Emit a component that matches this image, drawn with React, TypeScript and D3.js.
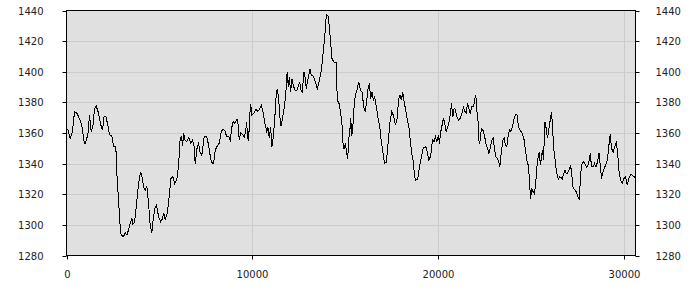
import React from "react";
import * as d3 from "d3";

const xValues: number[] = [
  0, 70, 194, 323, 431, 555, 733, 862, 916, 1002, 1148, 1240, 1326, 1417, 1509, 1595, 1725, 1849, 1940, 2026,
  2118, 2226, 2317, 2441, 2533, 2657, 2711, 2802, 2889, 2943, 3072, 3158, 3250, 3341, 3428, 3519, 3573, 3665, 3735, 3843,
  3913, 3988, 4058, 4150, 4236, 4328, 4419, 4506, 4597, 4689, 4775, 4850, 4958, 5066, 5174, 5228, 5314, 5422, 5530, 5621,
  5729, 5821, 5944, 6036, 6122, 6198, 6252, 6306, 6376, 6467, 6591, 6699, 6791, 6877, 6931, 7039, 7114, 7184, 7292, 7416,
  7545, 7653, 7761, 7847, 7922, 8009, 8116, 8224, 8332, 8440, 8531, 8623, 8731, 8817, 8909, 8979, 9070, 9141, 9216, 9302,
  9394, 9485, 9572, 9647, 9701, 9755, 9809, 9863, 9917, 9987, 10094, 10202, 10310, 10418, 10488, 10596, 10687, 10779, 10849, 10919,
  10994, 11064, 11135, 11210, 11296, 11350, 11426, 11479, 11549, 11641, 11727, 11803, 11857, 11889, 11943, 11997, 12072, 12142, 12212, 12320,
  12428, 12557, 12627, 12697, 12789, 12859, 12913, 13005, 13112, 13183, 13290, 13398, 13506, 13614, 13722, 13797, 13867, 13937, 13991, 14083,
  14153, 14228, 14298, 14390, 14514, 14584, 14675, 14767, 14837, 14875, 14945, 15015, 15090, 15144, 15198, 15268, 15307, 15360, 15430, 15484,
  15554, 15662, 15737, 15823, 15915, 16006, 16093, 16168, 16238, 16308, 16384, 16454, 16524, 16599, 16686, 16777, 16869, 16955, 17047, 17128,
  17225, 17316, 17408, 17516, 17602, 17710, 17801, 17893, 17963, 18033, 18108, 18178, 18270, 18356, 18448, 18518, 18593, 18663, 18744, 18798,
  18906, 19003, 19132, 19219, 19348, 19434, 19510, 19618, 19704, 19795, 19866, 19941, 20027, 20081, 20157, 20243, 20297, 20372, 20442, 20512,
  20588, 20674, 20728, 20803, 20873, 20943, 21019, 21105, 21197, 21288, 21375, 21466, 21520, 21590, 21666, 21736, 21827, 21914, 21989, 22043,
  22097, 22167, 22221, 22275, 22345, 22420, 22506, 22582, 22668, 22743, 22813, 22905, 22975, 23045, 23120, 23207, 23282, 23336, 23406, 23498,
  23568, 23638, 23713, 23784, 23854, 23929, 24015, 24107, 24198, 24268, 24338, 24430, 24538, 24645, 24716, 24791, 24877, 24931, 24985, 25061,
  25131, 25185, 25254, 25330, 25400, 25454, 25524, 25578, 25632, 25686, 25761, 25831, 25901, 25977, 26063, 26117, 26171, 26225, 26300, 26370,
  26478, 26548, 26624, 26694, 26764, 26839, 26909, 26979, 27055, 27141, 27195, 27270, 27357, 27448, 27540, 27610, 27680, 27734, 27826, 27917,
  28004, 28079, 28149, 28203, 28273, 28365, 28435, 28510, 28597, 28672, 28742, 28812, 28888, 28974, 29065, 29135, 29210, 29280, 29350, 29442,
  29512, 29604, 29674, 29749, 29836, 29927, 30019, 30105, 30197, 30288, 30374, 30466, 30558, 30640,
];

const yValues: number[] = [
  1362, 1362.4, 1356.5, 1361, 1374, 1373, 1368.5, 1363, 1355.5, 1353, 1358.7, 1371.5, 1361, 1364, 1375.6, 1377.7, 1373, 1365.2, 1362, 1371,
  1371, 1365, 1359, 1358, 1351.5, 1351, 1333.5, 1316, 1299, 1293.4, 1292.2, 1295, 1293.4, 1296.6, 1301, 1304.2, 1300.3, 1301.4, 1309.6, 1322.6,
  1329.2, 1334.6, 1331.8, 1324.8, 1322.6, 1325.2, 1314, 1299.8, 1295, 1305.8, 1311.4, 1313, 1305.3, 1302, 1304.2, 1307.9, 1303.6, 1307.5, 1318.3, 1330.3,
  1331.4, 1327, 1329.6, 1339, 1356.5, 1357.6, 1351.5, 1360.2, 1355.4, 1354.3, 1357, 1353.3, 1355.4, 1351, 1339.7, 1351, 1353.3, 1347.8, 1345.5, 1358,
  1358, 1352, 1343.3, 1340.4, 1340.4, 1348.8, 1351.4, 1353.3, 1361, 1362.4, 1361.6, 1357.6, 1358, 1355.4, 1364.1, 1367.4, 1366.2, 1368.4, 1369, 1355.8,
  1360.2, 1359, 1357.6, 1361, 1367.4, 1356.5, 1355.4, 1371, 1378.8, 1371.6, 1373.1, 1375.3, 1374.2, 1376, 1378.2, 1373.1, 1366.2, 1361, 1363.6, 1357.1,
  1363.6, 1351, 1357.6, 1368.4, 1385.8, 1389, 1382.5, 1371.6, 1364.4, 1370.5, 1377, 1384, 1396.6, 1399.9, 1390.1, 1396.6, 1386.8, 1395.5, 1391.1, 1387.4,
  1388.3, 1393.4, 1388, 1386.8, 1399.9, 1395.5, 1389, 1395.5, 1402, 1397.7, 1397, 1393.4, 1389, 1394.4, 1401, 1409.7, 1418.4, 1427.1, 1437.4, 1436.3,
  1429.3, 1418.4, 1408.6, 1406.4, 1406, 1381.4, 1379.3, 1372.7, 1365.1, 1354.2, 1349.8, 1353.1, 1346.6, 1343.3, 1355.4, 1363.1, 1370, 1358, 1366, 1377,
  1384.7, 1389, 1393.4, 1388, 1386.8, 1377, 1373.8, 1381.4, 1389, 1392.3, 1382.5, 1386.8, 1381.4, 1383.6, 1377, 1369.5, 1364, 1354.2, 1346.6, 1340,
  1341, 1353, 1366, 1373.8, 1371.6, 1365.1, 1369.5, 1382.5, 1384.7, 1381.4, 1386.8, 1380.3, 1374.9, 1368.4, 1363, 1354.2, 1346.6, 1342.2, 1332, 1329.2,
  1329.5, 1337.9, 1345.5, 1350.5, 1351, 1347.6, 1341.8, 1345.5, 1355.4, 1354.2, 1357.6, 1354.2, 1358.6, 1353.1, 1361, 1366.2, 1370, 1365.7, 1361, 1363,
  1366.2, 1372.7, 1379.3, 1370.5, 1376, 1375.3, 1370.5, 1368.4, 1369.5, 1372.7, 1377, 1373.8, 1372.7, 1379.3, 1376, 1372.7, 1377, 1377, 1382.5, 1384.7,
  1374.9, 1367.3, 1353.1, 1355.4, 1363, 1362, 1358.6, 1353.1, 1349.8, 1346.9, 1349.8, 1355.4, 1356.5, 1349.8, 1344.4, 1343.3, 1341.1, 1337.8, 1346.6, 1355.4,
  1356.5, 1352.1, 1351, 1358.6, 1362, 1361, 1364.1, 1369.5, 1372.3, 1371.6, 1364.1, 1361.8, 1359.7, 1355.4, 1348.8, 1342.2, 1338.3, 1329.2, 1317.2, 1323.7,
  1321.5, 1320.5, 1324.8, 1337.8, 1344.4, 1347.6, 1338.9, 1344.4, 1348.8, 1342.2, 1367.3, 1363, 1356.5, 1363, 1369.5, 1373.8, 1365.1, 1351, 1343.3, 1335.7,
  1329.8, 1331.4, 1331, 1329.6, 1333.1, 1335.7, 1333.5, 1333.5, 1335.7, 1339, 1334.6, 1324.8, 1323.1, 1321.5, 1318.3, 1316.5, 1331.4, 1339, 1341.2, 1340,
  1337.8, 1339, 1342.2, 1346.6, 1337.8, 1337.8, 1340, 1337.8, 1341.2, 1347, 1339, 1330.3, 1334.6, 1337.5, 1340, 1343.3, 1352.1, 1359.1, 1349.8, 1347.6,
  1351, 1353.6, 1347.6, 1335.7, 1329.2, 1327, 1330.3, 1331.4, 1326, 1330.3, 1333.1, 1332.5, 1331.4, 1331,
];

const yTicks: number[] = [1280, 1300, 1320, 1340, 1360, 1380, 1400, 1420, 1440];
const xTicks: number[] = [0, 10000, 20000, 30000];

const W = 700;
const H = 300;
const L = 66.5;
const R = 635.5;
const T = 10.5;
const B = 255.5;

export default function App() {
  const x = d3.scaleLinear().domain([0, 30640]).range([L, R]);
  const y = d3.scaleLinear().domain([1280, 1440]).range([B, T]);
  const pts: [number, number][] = xValues.map((v, i) => [v, yValues[i]]);
  const line = d3
    .line<[number, number]>()
    .x((d) => x(d[0]))
    .y((d) => y(d[1]));
  const font = "'DejaVu Sans', Verdana, sans-serif";
  const txt = "#222";
  return (
    <svg
      width={W}
      height={H}
      style={{ position: "fixed", left: 0, top: 0, background: "#fff" }}
    >
      <rect x={L} y={T} width={R - L} height={B - T} fill="#e0e0e0" />
      {yTicks
        .filter((t) => t !== 1280 && t !== 1440)
        .map((t) => (
          <line key={"gy" + t} x1={L} x2={R} y1={Math.round(y(t)) + 0.5} y2={Math.round(y(t)) + 0.5} stroke="#cccccc" />
        ))}
      {xTicks
        .filter((t) => t !== 0)
        .map((t) => (
          <line key={"gx" + t} x1={Math.round(x(t)) + 0.5} x2={Math.round(x(t)) + 0.5} y1={T} y2={B} stroke="#cccccc" />
        ))}
      <path d={line(pts) || ""} fill="none" stroke="#000" strokeWidth={1} shapeRendering="crispEdges" />
      <rect x={L} y={T} width={R - L} height={B - T} fill="none" stroke="#000" />
      {yTicks.map((t) => {
        const yy = Math.round(y(t)) + 0.5;
        return (
          <g key={"yt" + t}>
            <line x1={L - 4} x2={L} y1={yy} y2={yy} stroke="#000" />
            <line x1={R} x2={R + 4} y1={yy} y2={yy} stroke="#000" />
            <text x={43.5} y={yy} textAnchor="end" dominantBaseline="central" fontFamily={font} fontSize={10} fill={txt}>
              {t}
            </text>
            <text x={655.5} y={yy} textAnchor="start" dominantBaseline="central" fontFamily={font} fontSize={10} fill={txt}>
              {t}
            </text>
          </g>
        );
      })}
      {xTicks.map((t) => {
        const xx = Math.round(x(t)) + 0.5;
        return (
          <g key={"xt" + t}>
            <line x1={xx} x2={xx} y1={B} y2={B + 4} stroke="#000" />
            <text x={xx} y={274} textAnchor="middle" dominantBaseline="central" fontFamily={font} fontSize={10} fill={txt}>
              {t}
            </text>
          </g>
        );
      })}
    </svg>
  );
}
